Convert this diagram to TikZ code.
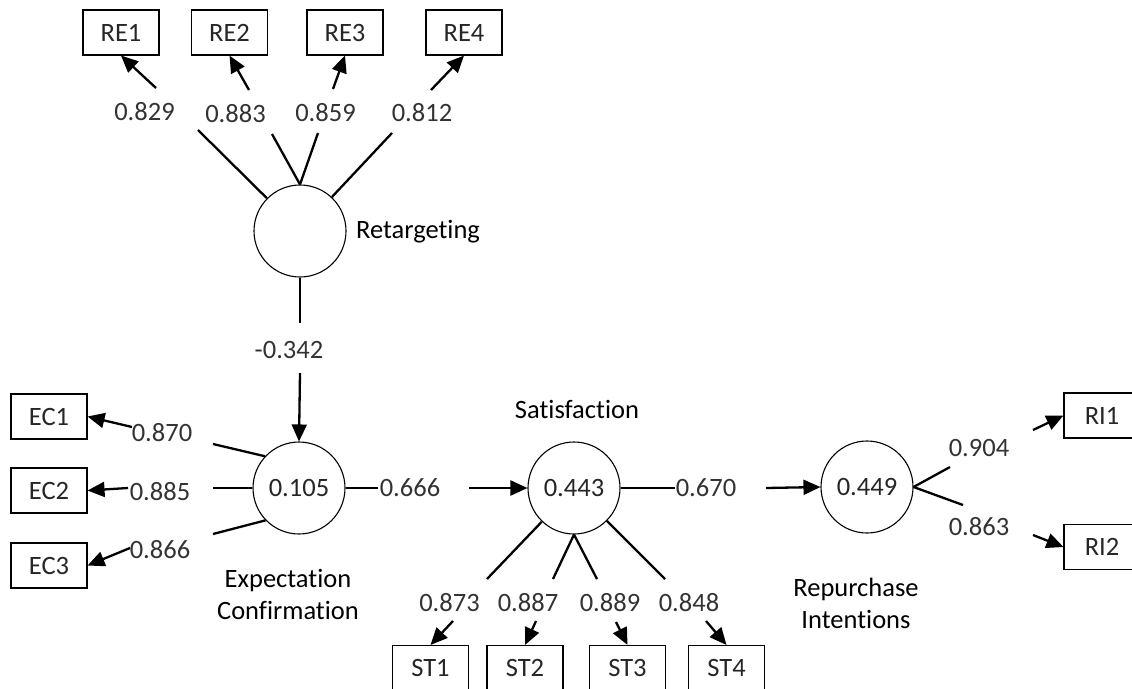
\documentclass[tikz,border=0pt]{standalone}
\usepackage{fontspec}
\setmainfont{Carlito}[Ligatures=CommonOff]
\usetikzlibrary{arrows.meta}
\tikzset{
  item/.style={draw, line width=1.1pt, minimum width=76pt, minimum height=45pt,
    inner sep=0pt, font=\fontsize{26.5}{30}\selectfont, text=black!85},
  latent/.style={draw, circle, line width=1.1pt, minimum size=92pt, inner sep=0pt,
    font=\fontsize{26.5}{30}\selectfont, text=black!85},
  coef/.style={inner sep=0pt, font=\fontsize{26.5}{30}\selectfont, text=black!80},
  title/.style={inner sep=0pt, font=\fontsize{26.5}{32}\selectfont, text=black, align=center},
  link/.style={line width=2.3pt},
  load/.style={line width=2.3pt, -{Triangle[length=17pt,width=15pt]}}
}
\begin{document}
\begin{tikzpicture}[x=1pt,y=-1pt]
\useasboundingbox (0,0) rectangle (1132,688);

% latent constructs
\node[latent] (ret) at (300,231) {};
\node[latent] (ec)  at (299,488) {0.105};
\node[latent] (sat) at (574,488) {0.443};
\node[latent] (ri)  at (867,487) {0.449};

% construct names
\node[title] (tret) at (418,232) {Retargeting};
\node[title] (tsat) at (577,409) {Satisfaction};
\node[title] (tec)  at (288,594) {Expectation\\Confirmation};
\node[title] (tri)  at (856,603) {Repurchase\\Intentions};

% indicators
\node[item] (re1) at (121,32.5) {RE1};
\node[item] (re2) at (229.5,32.5) {RE2};
\node[item] (re3) at (345,32.5) {RE3};
\node[item] (re4) at (464,32.5) {RE4};
\node[item] (ec1) at (49,416.5) {EC1};
\node[item] (ec2) at (49,490.5) {EC2};
\node[item] (ec3) at (49,565.5) {EC3};
\node[item] (st1) at (430.5,668) {ST1};
\node[item] (st2) at (525,668) {ST2};
\node[item] (st3) at (627.5,668) {ST3};
\node[item] (st4) at (726.5,668) {ST4};
\node[item] (ri1) at (1102,415.5) {RI1};
\node[item] (ri2) at (1102,547) {RI2};

% coefficients
\node[coef] (l-re1) at (144.5,112) {0.829};
\node[coef] (l-re2) at (235.5,114) {0.883};
\node[coef] (l-re3) at (325.5,113) {0.859};
\node[coef] (l-re4) at (422,113) {0.812};
\node[coef] (l-ret) at (289,350) {-0.342};
\node[coef] (l-ec1) at (162,433) {0.870};
\node[coef] (l-ec2) at (160,492) {0.885};
\node[coef] (l-ec3) at (160,550) {0.866};
\node[coef] (l-es)  at (410,488) {0.666};
\node[coef] (l-sr)  at (706,488) {0.670};
\node[coef] (l-st1) at (449.5,603) {0.873};
\node[coef] (l-st2) at (528,603) {0.887};
\node[coef] (l-st3) at (610,603) {0.889};
\node[coef] (l-st4) at (689,603) {0.848};
\node[coef] (l-ri1) at (979,448) {0.904};
\node[coef] (l-ri2) at (979,527) {0.863};

% break points around the coefficients
\coordinate (c-re1) at (198,130);  \coordinate (a-re1) at (156,88);
\coordinate (c-re2) at (272,134);  \coordinate (a-re2) at (249,90);
\coordinate (c-re3) at (318,133);  \coordinate (a-re3) at (333,89);
\coordinate (c-re4) at (392,133);  \coordinate (a-re4) at (431,90);
\coordinate (c-ret) at (300,323);  \coordinate (a-ret) at (300,373);
\coordinate (c-ec1) at (213,444);  \coordinate (a-ec1) at (132,427);
\coordinate (c-ec2) at (213,488);  \coordinate (a-ec2) at (128,488);
\coordinate (c-ec3) at (213,534);  \coordinate (a-ec3) at (130,548);
\coordinate (c-es)  at (378,488);  \coordinate (a-es)  at (469,488);
\coordinate (c-sr)  at (675,488);  \coordinate (a-sr)  at (766,488);
\coordinate (c-st1) at (487,579);  \coordinate (a-st1) at (453,621);
\coordinate (c-st2) at (553,579);  \coordinate (a-st2) at (536,621);
\coordinate (c-st3) at (597,579);  \coordinate (a-st3) at (616,622);
\coordinate (c-st4) at (665,579);  \coordinate (a-st4) at (706,621);
\coordinate (c-ri1) at (950,467);  \coordinate (a-ri1) at (1033,430);
\coordinate (c-ri2) at (963,505);  \coordinate (a-ri2) at (1033,535);

% Retargeting loadings
\draw[link] (ret) -- (c-re1);
\draw[link] (ret.north) -- (c-re2);
\draw[link] (ret.north) -- (c-re3);
\draw[link] (ret) -- (c-re4);
\draw[load] (a-re1) -- (re1.south);
\draw[load] (a-re2) -- (re2.south);
\draw[load] (a-re3) -- (re3.south);
\draw[load] (a-re4) -- (re4.south);

% structural paths
\draw[link] (ret.south) -- (c-ret);
\draw[load] (a-ret) -- (ec.north);
\draw[link] (ec.east) -- (c-es);
\draw[load] (a-es) -- (sat.west);
\draw[link] (sat.east) -- (c-sr);
\draw[load] (a-sr) -- (ri.west);

% Expectation Confirmation loadings
\draw[link] (ec.137) -- (c-ec1);
\draw[link] (ec.west) -- (c-ec2);
\draw[link] (ec.224) -- (c-ec3);
\draw[load] (a-ec1) -- (ec1.east);
\draw[load] (a-ec2) -- (ec2.east);
\draw[load] (a-ec3) -- (ec3.east);

% Satisfaction loadings
\draw[link] (sat) -- (c-st1);
\draw[link] (sat.south) -- (c-st2);
\draw[link] (sat.south) -- (c-st3);
\draw[link] (sat) -- (c-st4);
\draw[load] (a-st1) -- (st1.north);
\draw[load] (a-st2) -- (st2.north);
\draw[load] (a-st3) -- (st3.north);
\draw[load] (a-st4) -- (st4.north);

% Repurchase Intentions loadings
\draw[link] (ri.east) -- (c-ri1);
\draw[link] (ri.east) -- (c-ri2);
\draw[load] (a-ri1) -- (ri1.west);
\draw[load] (a-ri2) -- (ri2.west);
\end{tikzpicture}
\end{document}
